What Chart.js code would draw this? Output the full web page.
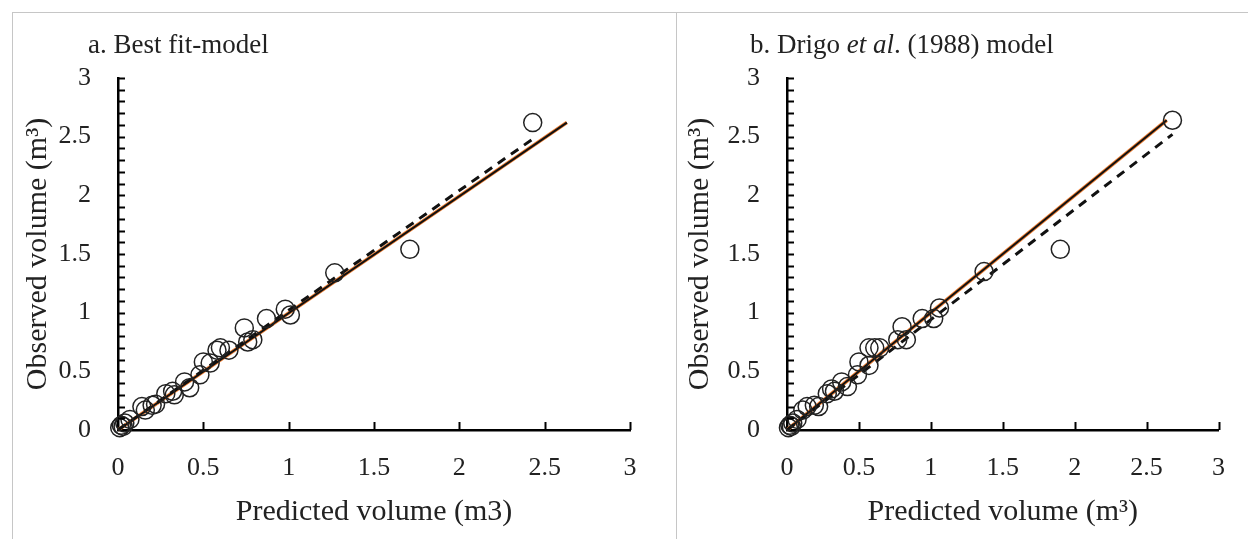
<!DOCTYPE html>
<html>
<head>
<meta charset="utf-8">
<script src="https://cdn.jsdelivr.net/npm/chart.js@4/dist/chart.umd.min.js"></script>
<style>
  body { margin: 0; background: #fff; width: 1248px; height: 539px; overflow: hidden; position: relative; font-family: "Liberation Serif", serif; }
  .frame { position: absolute; top: 12px; bottom: 0; border-top: 1px solid #c6c6c6; border-left: 1px solid #c6c6c6; }
  #frameA { left: 12px; width: 664px; }
  #frameB { left: 676px; right: 0; }
  .box { position: absolute; top: 0; height: 539px; }
  #boxA { left: 0; width: 676px; }
  #boxB { left: 676px; width: 572px; }
  .panel-title { position: absolute; top: 29px; font-size: 27px; line-height: 30px; color: #222; white-space: nowrap; }
</style>
</head>
<body>
<div class="frame" id="frameA"></div>
<div class="frame" id="frameB"></div>
<div class="box" id="boxA"><canvas id="chartA" width="676" height="539"></canvas></div>
<div class="box" id="boxB"><canvas id="chartB" width="572" height="539"></canvas></div>
<div class="panel-title" style="left:88px">a. Best fit-model</div>
<div class="panel-title" style="left:750px">b. Drigo <i>et al</i>. (1988) model</div>
<script>
// panel a: best fit model
const predictedA = [0.01, 0.02, 0.03, 0.04, 0.07, 0.14, 0.16, 0.20, 0.22, 0.28, 0.32, 0.33, 0.39, 0.42, 0.48, 0.50, 0.54, 0.58, 0.60, 0.65, 0.74, 0.76, 0.79, 0.87, 0.98, 1.01, 1.27, 1.71, 2.43];
const observedA  = [0.02, 0.04, 0.03, 0.06, 0.09, 0.20, 0.17, 0.21, 0.22, 0.31, 0.33, 0.30, 0.41, 0.36, 0.47, 0.58, 0.57, 0.68, 0.70, 0.68, 0.87, 0.75, 0.77, 0.95, 1.03, 0.98, 1.34, 1.54, 2.62];
const solidAX = [0, 2.63];
const solidAY = [0, 2.62];
const dashAX = [0, 2.44];
const dashAY = [0, 2.49];

// panel b: Drigo et al. (1988)
const predictedB = [0.01, 0.02, 0.03, 0.04, 0.07, 0.11, 0.14, 0.19, 0.22, 0.28, 0.31, 0.33, 0.38, 0.42, 0.49, 0.50, 0.57, 0.57, 0.61, 0.645, 0.77, 0.80, 0.83, 0.94, 1.02, 1.06, 1.37, 1.90, 2.68];
const observedB  = [0.02, 0.04, 0.03, 0.06, 0.09, 0.17, 0.20, 0.21, 0.20, 0.31, 0.35, 0.33, 0.41, 0.37, 0.47, 0.58, 0.55, 0.70, 0.70, 0.70, 0.77, 0.88, 0.77, 0.95, 0.95, 1.04, 1.35, 1.54, 2.64];
const solidBX = [0, 2.64];
const solidBY = [0, 2.64];
const dashBX = [0, 2.68];
const dashBY = [0, 2.52];

const axisTicks = [0, 0.5, 1, 1.5, 2, 2.5, 3];

const pairs = (xs, ys) => xs.map((v, i) => ({ x: v, y: ys[i] }));

// ticks drawn inside the plot, like the original
const innerTicks = {
  id: 'innerTicks',
  afterDraw(chart) {
    const { ctx, chartArea, scales: { x, y } } = chart;
    ctx.save();
    ctx.strokeStyle = '#000';
    ctx.lineWidth = 2;
    for (let i = 1; i <= 30; i++) {
      const py = Math.round(y.getPixelForValue(i / 10)) + 0.5;
      ctx.beginPath();
      ctx.moveTo(chartArea.left, py);
      ctx.lineTo(chartArea.left + 7, py);
      ctx.stroke();
    }
    axisTicks.slice(1).forEach(v => {
      const px = Math.round(x.getPixelForValue(v)) + 0.5;
      ctx.beginPath();
      ctx.moveTo(px, chartArea.bottom);
      ctx.lineTo(px, chartArea.bottom - 8);
      ctx.stroke();
    });
    ctx.restore();
  }
};

function makeChart(id, cfg) {
  const tickFont = { family: 'Liberation Serif', size: 26 };
  const titleFont = { family: 'Liberation Serif', size: 30 };
  // chart.js paints the first dataset last, so the points go first and the orange halo last
  return new Chart(document.getElementById(id), {
    type: 'scatter',
    data: {
      datasets: [
        { data: cfg.points, pointRadius: 9, pointBorderWidth: 1.5, borderColor: '#222', backgroundColor: 'rgba(0,0,0,0)', clip: false },
        { type: 'line', data: cfg.dashed, borderColor: '#111', borderWidth: 3, borderDash: [9, 7], pointRadius: 0, clip: false },
        { type: 'line', data: cfg.solid, borderColor: '#111', borderWidth: 2, pointRadius: 0, clip: false },
        { type: 'line', data: cfg.solid, borderColor: '#ED7D31', borderWidth: 3.6, pointRadius: 0, clip: false }
      ]
    },
    options: {
      responsive: false,
      animation: false,
      layout: { padding: { left: 0, top: 78, right: cfg.padRight, bottom: 0 } },
      plugins: { legend: { display: false }, tooltip: { enabled: false } },
      scales: {
        x: {
          type: 'linear', min: 0, max: 3,
          afterBuildTicks: s => { s.ticks = axisTicks.map(v => ({ value: v })); },
          ticks: { font: tickFont, color: '#222', padding: 23, callback: v => String(v) },
          grid: { display: false, drawTicks: false },
          border: { display: true, color: '#000', width: 2.5 },
          title: { display: true, text: cfg.xTitle, font: titleFont, color: '#222', padding: { top: 0, bottom: 9 } },
          afterFit: s => { s.height = 109; }
        },
        y: {
          type: 'linear', min: 0, max: 3,
          afterBuildTicks: s => { s.ticks = axisTicks.map(v => ({ value: v })); },
          ticks: { font: tickFont, color: '#222', padding: 27, callback: v => String(v) },
          grid: { display: false, drawTicks: false },
          border: { display: true, color: '#000', width: 2.5 },
          title: { display: true, text: 'Observed volume (m³)', font: titleFont, color: '#222', padding: { top: cfg.yTitlePad, bottom: 0 } },
          afterFit: s => { s.width = cfg.yWidth; }
        }
      }
    },
    plugins: [innerTicks]
  });
}

makeChart('chartA', {
  points: pairs(predictedA, observedA),
  solid: pairs(solidAX, solidAY),
  dashed: pairs(dashAX, dashAY),
  xTitle: 'Predicted volume (m3)',
  padRight: 46, yWidth: 118, yTitlePad: 20
});

makeChart('chartB', {
  points: pairs(predictedB, observedB),
  solid: pairs(solidBX, solidBY),
  dashed: pairs(dashBX, dashBY),
  xTitle: 'Predicted volume (m³)',
  padRight: 23, yWidth: 111, yTitlePad: 6
});
</script>
</body>
</html>
